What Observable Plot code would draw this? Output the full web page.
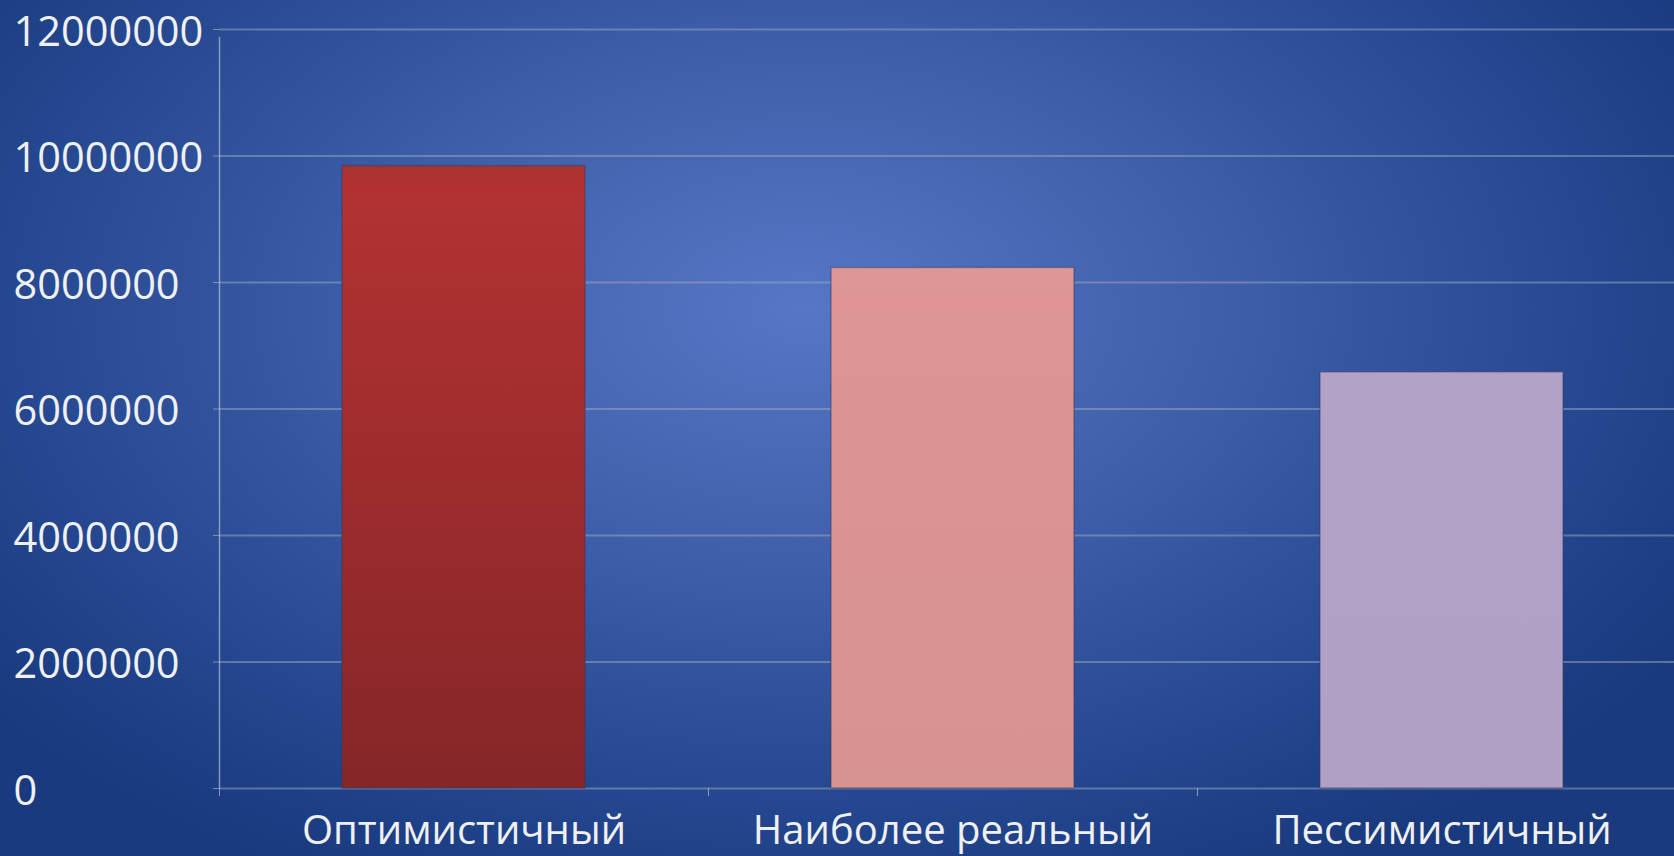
<!DOCTYPE html>
<html>
<head>
<meta charset="utf-8">
<script src="https://cdn.jsdelivr.net/npm/d3@7"></script>
<script src="https://cdn.jsdelivr.net/npm/@observablehq/plot@0.6"></script>
<style>
  html, body { margin: 0; padding: 0; overflow: hidden; background: #1f4184; }
  #chart svg { display: block; }
</style>
</head>
<body>
<div id="chart"></div>
<script>
// Data
const categories = ["Оптимистичный", "Наиболее реальный", "Пессимистичный"];
const values = [9840000, 8230000, 6580000];
const yTicks = [0, 2000000, 4000000, 6000000, 8000000, 10000000, 12000000];

const data = categories.map((c, i) => ({category: c, value: values[i]}));

const W = 1674, H = 856;
const fontFamily = "'Open Sans', Lato, sans-serif";
const textColor = "#f0f0f0";

const plot = Plot.plot({
  width: W,
  height: H,
  marginTop: 29,
  marginBottom: 68,
  marginLeft: 219,
  marginRight: 0,
  style: {
    background: "radial-gradient(ellipse 62% 75% at 48% 36%, #5677c6 0%, #4262ad 35%, #2c4f98 65%, #1d3f86 90%, #193a7e 100%)",
    fontFamily: fontFamily,
    color: textColor,
    overflow: "visible"
  },
  x: {domain: categories, range: [219, 1686], padding: 0, label: null},
  y: {domain: [0, 12000000], label: null},
  color: {domain: categories, range: ["url(#gOpt)", "url(#gReal)", "url(#gPes)"]},
  marks: [
    // gridlines
    Plot.ruleY(yTicks, {y: d => d, stroke: "#a0a8c0", strokeOpacity: 0.5, strokeWidth: 2}),
    // y-axis tick marks
    Plot.axisY({ticks: yTicks, tickSize: 6, tickFormat: () => "", stroke: "#a0a8c0", strokeOpacity: 0.7}),
    // y-axis labels, left aligned
    Plot.axisY({ticks: yTicks, tickSize: 0, tickPadding: 0, textAnchor: "start", dx: -206, dy: 3,
      tickFormat: d => String(d), fontSize: 41.5, fill: textColor, stroke: null}),
    // vertical axis line
    Plot.ruleX([categories[0]], {x: d => d, dx: -244.5, y1: 0, y2: 12000000, insetBottom: -8,
      stroke: "#b4bcd6", strokeOpacity: 0.7, strokeWidth: 1.5}),
    // x-axis boundary ticks
    Plot.axisX({tickSize: 8, dx: -244.5, tickFormat: () => "", stroke: "#b4bcd6", strokeOpacity: 0.7}),
    // bars
    Plot.barY(data, {x: "category", y: "value", fill: "category", insetLeft: 123, insetRight: 123,
      stroke: "#3a3a5a", strokeOpacity: 0.45, strokeWidth: 1.5}),
    // x-axis labels
    Plot.axisX({tickSize: 0, tickPadding: 27, fontSize: 40, fill: textColor, stroke: null})
  ]
});

// gradient defs for bars
const svg = d3.select(plot);
const defs = svg.insert("defs", ":first-child");
function grad(id, stops) {
  const g = defs.append("linearGradient").attr("id", id).attr("x1", 0).attr("y1", 0).attr("x2", 0).attr("y2", 1);
  stops.forEach(([o, c]) => g.append("stop").attr("offset", o).attr("stop-color", c));
}
grad("gOpt", [[0, "#a8352f"], [0.03, "#b23031"], [0.06, "#b13232"], [0.5, "#9e2c2d"], [1, "#852628"]]);
grad("gReal", [[0, "#dc9898"], [0.05, "#de9494"], [1, "#d79391"]]);
grad("gPes", [[0, "#b2a2c8"], [1, "#b1a0c6"]]);

document.getElementById("chart").appendChild(plot);
</script>
</body>
</html>
